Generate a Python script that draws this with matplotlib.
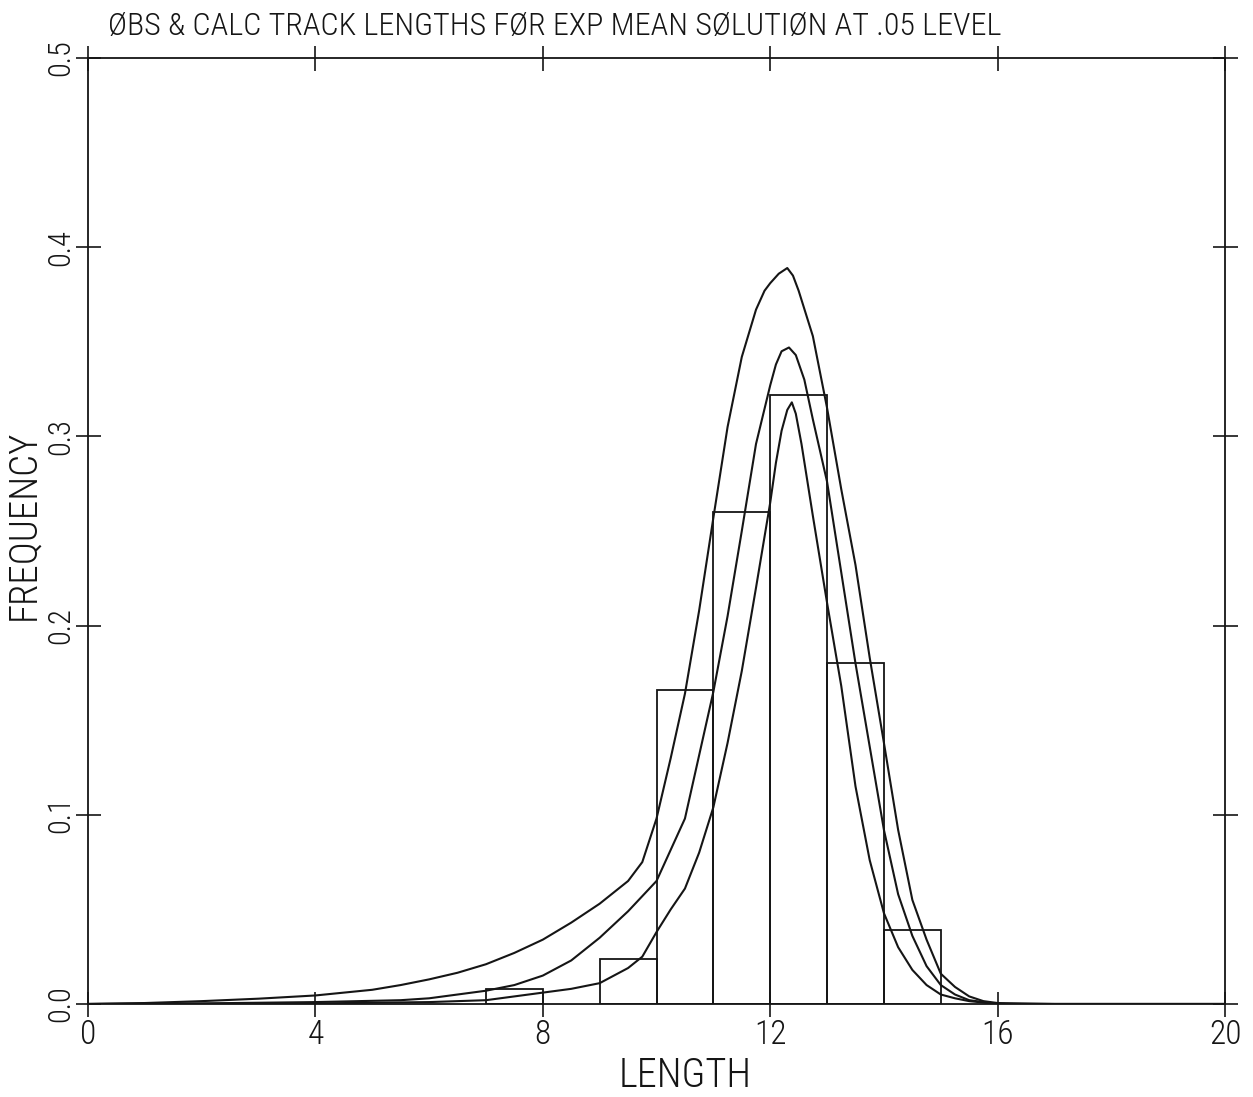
import matplotlib
matplotlib.use("Agg")
import matplotlib.pyplot as plt
from matplotlib import font_manager

# observed track length histogram (bins of width 1)
bin_left = [7, 9, 10, 11, 12, 13, 14]
obs_freq = [0.008, 0.024, 0.166, 0.260, 0.322, 0.180, 0.039]

# calculated distributions
calc_a_x = [0, 1, 2, 3, 4, 5, 5.5, 6, 6.5, 7, 7.5, 8, 8.5, 9, 9.5, 9.75,
            10, 10.25, 10.5, 10.75, 11, 11.25, 11.5, 11.75, 11.9, 12.0, 12.15,
            12.3, 12.4, 12.5, 12.75, 13, 13.25, 13.5, 13.75, 14, 14.25, 14.5,
            14.75, 15, 15.25, 15.5, 15.75, 16, 17, 18, 19, 20]
calc_a_y = [0.0, 0.0005, 0.0015, 0.0028, 0.0045, 0.0075, 0.010, 0.013, 0.0165,
            0.021, 0.027, 0.034, 0.043, 0.053, 0.065, 0.075, 0.098, 0.130,
            0.164, 0.208, 0.257, 0.305, 0.342, 0.367, 0.377, 0.381, 0.386,
            0.389, 0.385, 0.377, 0.353, 0.315, 0.272, 0.232, 0.183, 0.138,
            0.092, 0.055, 0.034, 0.016, 0.009, 0.004, 0.0015, 0.0005, 0.0,
            0.0, 0.0, 0.0]

calc_b_x = [0, 2, 4, 5.5, 6, 7, 7.5, 8, 8.5, 9, 9.5, 10, 10.5, 11, 11.25,
            11.5, 11.75, 12, 12.1, 12.2, 12.33, 12.45, 12.6, 12.75, 13, 13.25,
            13.5, 13.75, 14, 14.25, 14.5, 14.75, 15, 15.25, 15.5, 16, 17, 18,
            19, 20]
calc_b_y = [0.0, 0.0003, 0.001, 0.002, 0.003, 0.007, 0.010, 0.015, 0.023,
            0.035, 0.049, 0.065, 0.098, 0.165, 0.205, 0.250, 0.296, 0.327,
            0.338, 0.345, 0.347, 0.343, 0.330, 0.309, 0.276, 0.228, 0.180,
            0.136, 0.092, 0.058, 0.036, 0.020, 0.010, 0.005, 0.002, 0.0, 0.0,
            0.0, 0.0, 0.0]

calc_c_x = [0, 4, 6, 7, 8, 8.5, 9, 9.5, 9.75, 10, 10.25, 10.5, 10.75, 11,
            11.25, 11.5, 11.75, 12, 12.1, 12.2, 12.3, 12.38, 12.45, 12.55,
            12.75, 13, 13.25, 13.5, 13.75, 14, 14.25, 14.5, 14.75, 15, 15.25,
            15.5, 16, 17, 18, 19, 20]
calc_c_y = [0.0, 0.0003, 0.001, 0.002, 0.006, 0.008, 0.011, 0.019, 0.025,
            0.038, 0.050, 0.061, 0.080, 0.104, 0.138, 0.176, 0.220, 0.265,
            0.286, 0.303, 0.314, 0.318, 0.312, 0.296, 0.258, 0.212, 0.168,
            0.115, 0.076, 0.048, 0.030, 0.018, 0.010, 0.005, 0.003, 0.0015,
            0.0, 0.0, 0.0, 0.0, 0.0]

x_ticks = [0, 4, 8, 12, 16, 20]
y_ticks = [0.0, 0.1, 0.2, 0.3, 0.4, 0.5]

# prefer a narrow face for the lettering if one is available
FONT = ["DejaVu Sans"]
STRETCH = "normal"
for fam in ["Liberation Sans Narrow", "Arial Narrow", "Roboto Condensed",
            "Open Sans Condensed"]:
    try:
        font_manager.findfont(font_manager.FontProperties(family=fam),
                              fallback_to_default=False)
        FONT = [fam, "DejaVu Sans"]
        break
    except ValueError:
        pass
else:
    p = font_manager.findfont(font_manager.FontProperties(
        family="DejaVu Sans", stretch="condensed"))
    if "Condensed" in p:
        STRETCH = "condensed"

INK = "#151515"
TXT = dict(family=FONT, stretch=STRETCH, color=INK, fontweight="light")

fig = plt.figure(figsize=(12.53, 10.97), dpi=100)
ax = fig.add_axes([0.0702, 0.0848, 0.9075, 0.8623])

ax.bar(bin_left, obs_freq, width=1.0, align="edge", fill=False,
       edgecolor=INK, linewidth=1.3)
for xs, ys in [(calc_a_x, calc_a_y), (calc_b_x, calc_b_y), (calc_c_x, calc_c_y)]:
    ax.plot(xs, ys, color=INK, linewidth=1.5)

ax.set_xlim(0, 20)
ax.set_ylim(0, 0.5)

for s in ax.spines.values():
    s.set_color(INK)
    s.set_linewidth(1.3)

ax.set_xticks(x_ticks)
ax.set_xticklabels([str(v) for v in x_ticks], fontsize=24, **TXT)
ax.set_yticks(y_ticks)
ax.set_yticklabels([f"{v:.1f}" for v in y_ticks], fontsize=22, rotation=90,
                   va="center", **TXT)
ax.tick_params(axis="both", direction="inout", length=18, width=1.2,
               color=INK, pad=2, top=True, right=True)
ax.tick_params(axis="y", pad=0)

fig.text(0.547, 0.019, "LENGTH", fontsize=29, ha="center", va="center", **TXT)
fig.text(0.019, 0.522, "FREQUENCY", fontsize=28, rotation=90, ha="center",
         va="center", **TXT)
fig.text(0.086, 0.976, "ØBS & CALC TRACK LENGTHS FØR EXP MEAN SØLUTIØN AT .05 LEVEL",
         fontsize=23, ha="left", va="center", **TXT)

fig.savefig("out.png", dpi=100)
